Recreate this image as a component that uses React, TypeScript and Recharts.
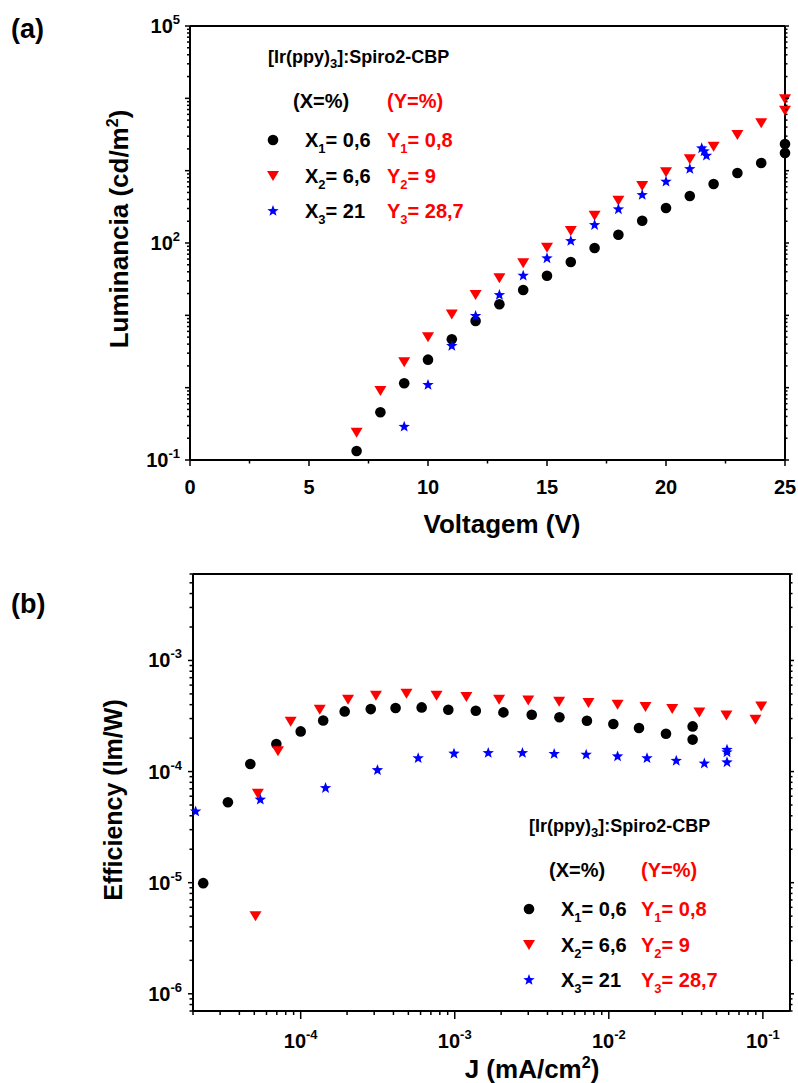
import React from 'react';
import { ScatterChart, Scatter, XAxis, YAxis } from 'recharts';

const FONT = '"Liberation Sans", Arial, Helvetica, sans-serif';
const RED = '#ff0000';
const BLUE = '#0000ff';

// (a) Luminancia vs Voltagem
const voltage1 = [7, 8, 9, 10, 11, 12, 13, 14, 15, 16, 17, 18, 19, 20, 21, 22, 23, 24, 25, 25];
const luminance1 = [0.133, 0.457, 1.15, 2.44, 4.67, 8.36, 14.2, 22.4, 35.3, 54.6, 85.3, 130, 203, 305, 447, 655, 928, 1275, 2340, 1754];
const voltage2 = [7, 8, 9, 10, 11, 12, 13, 14, 15, 16, 17, 18, 19, 20, 21, 22, 23, 24, 25, 25];
const luminance2 = [0.239, 0.9, 2.24, 4.97, 10.3, 19.1, 32.5, 52.4, 86, 146.5, 239, 385, 614, 949, 1436, 2148, 3115, 4518, 9700, 6745];
const voltage3 = [9, 10, 11, 12, 13, 14, 15, 16, 17, 18, 19, 20, 21, 21.5, 21.6, 21.7];
const luminance3 = [0.288, 1.09, 3.77, 9.8, 19.1, 35.3, 61.4, 106.6, 177, 292, 461, 705, 1054, 2037, 1850, 1610];

// (b) Efficiency vs J
const current1 = [2.33e-5, 3.37e-5, 4.71e-5, 6.95e-5, 1.0e-4, 1.4e-4, 1.93e-4, 2.85e-4, 4.13e-4, 6.1e-4, 9.08e-4, 1.37e-3, 2.07e-3, 3.16e-3, 4.78e-3, 7.21e-3, 1.07e-2, 1.57e-2, 2.35e-2, 3.5e-2, 3.5e-2];
const efficiency1 = [9.9e-6, 5.29e-5, 1.17e-4, 1.77e-4, 2.3e-4, 2.88e-4, 3.48e-4, 3.65e-4, 3.73e-4, 3.78e-4, 3.6e-4, 3.53e-4, 3.41e-4, 3.25e-4, 3.08e-4, 2.87e-4, 2.68e-4, 2.47e-4, 2.19e-4, 2.55e-4, 1.94e-4];
const current2 = [5.09e-5, 5.27e-5, 7.12e-5, 8.61e-5, 1.33e-4, 2.03e-4, 3.08e-4, 4.86e-4, 7.62e-4, 1.19e-3, 1.94e-3, 3.0e-3, 4.76e-3, 7.38e-3, 1.14e-2, 1.73e-2, 2.58e-2, 3.87e-2, 5.8e-2, 8.95e-2, 9.75e-2];
const efficiency2 = [4.99e-6, 6.33e-5, 1.52e-4, 2.81e-4, 3.6e-4, 4.43e-4, 4.82e-4, 5.01e-4, 4.82e-4, 4.69e-4, 4.44e-4, 4.37e-4, 4.25e-4, 4.14e-4, 4.0e-4, 3.81e-4, 3.66e-4, 3.41e-4, 3.19e-4, 2.93e-4, 3.85e-4];
const current3 = [2.08e-5, 5.47e-5, 1.45e-4, 3.15e-4, 5.79e-4, 9.89e-4, 1.65e-3, 2.75e-3, 4.42e-3, 7.13e-3, 1.14e-2, 1.77e-2, 2.74e-2, 4.17e-2, 5.85e-2, 5.85e-2, 5.85e-2];
const efficiency3 = [4.38e-5, 5.59e-5, 7.11e-5, 1.03e-4, 1.32e-4, 1.45e-4, 1.47e-4, 1.47e-4, 1.44e-4, 1.42e-4, 1.37e-4, 1.32e-4, 1.25e-4, 1.18e-4, 1.21e-4, 1.57e-4, 1.49e-4];

// axes
const voltTicks = [0, 5, 10, 15, 20, 25];
const voltMinorTicks = [2.5, 7.5, 12.5, 17.5, 22.5];
const lumDecades = [0.1, 1, 10, 100, 1000, 10000, 100000];
const lumLabelExps = [-1, 2, 5];
const currentDecades = [1e-5, 1e-4, 1e-3, 1e-2, 1e-1];
const currentLabelExps = [-4, -3, -2, -1];
const effDecades = [1e-7, 1e-6, 1e-5, 1e-4, 1e-3];
const effLabelExps = [-6, -5, -4, -3];
const MULT = [2, 3, 4, 5, 6, 7, 8, 9];

const logTicks = (decades: number[], lo: number, hi: number) => {
  const out: number[] = [];
  decades.forEach((d) => {
    out.push(d);
    MULT.forEach((m) => out.push(d * m));
  });
  return out.filter((v) => v >= lo * 0.999 && v <= hi * 1.001);
};

const zip = (xs: number[], ys: number[]) => xs.map((x, i) => ({ x, y: ys[i] }));

const lumData1 = zip(voltage1, luminance1);
const lumData2 = zip(voltage2, luminance2);
const lumData3 = zip(voltage3, luminance3);
const effData1 = zip(current1, efficiency1);
const effData2 = zip(current2, efficiency2);
const effData3 = zip(current3, efficiency3);

const isDecade = (v: number) => Math.abs(Math.log10(v) - Math.round(Math.log10(v))) < 1e-6;
const expOf = (v: number) => Math.round(Math.log10(v));

const pow10 = (e: number) => (
  <>
    <tspan>10</tspan>
    <tspan dy={-9} fontSize={13}>{`${e}`}</tspan>
  </>
);

type Side = 'left' | 'right' | 'top' | 'bottom';

const makeTick =
  (
    side: Side,
    isMajor: (v: number) => boolean,
    label: (v: number) => React.ReactNode | null,
    gap: number,
    majorLen = 6,
    minorLen = 3.5
  ) =>
  (props: any) => {
    const { x, y, payload } = props;
    const v = payload.value;
    const len = isMajor(v) ? majorLen : minorLen;
    let line;
    if (side === 'left') line = <line x1={x} y1={y} x2={x - len} y2={y} />;
    else if (side === 'right') line = <line x1={x} y1={y} x2={x + len} y2={y} />;
    else if (side === 'top') line = <line x1={x} y1={y} x2={x} y2={y - len} />;
    else line = <line x1={x} y1={y} x2={x} y2={y + len} />;
    const lab = label(v);
    let text = null;
    if (lab != null) {
      if (side === 'left') {
        text = (
          <text x={x - gap} y={y + 7} textAnchor="end" fontSize={20} fontWeight="bold" fontFamily={FONT} fill="#000">
            {lab}
          </text>
        );
      } else if (side === 'bottom') {
        text = (
          <text x={x} y={y + gap} textAnchor="middle" fontSize={20} fontWeight="bold" fontFamily={FONT} fill="#000">
            {lab}
          </text>
        );
      }
    }
    return (
      <g>
        <g stroke="#000" strokeWidth={1.5}>{line}</g>
        {text}
      </g>
    );
  };

const noLabel = () => null;

const Dot = (p: any) => <circle cx={p.cx} cy={p.cy} r={5.3} fill="#000" />;
const TriDown = (p: any) => (
  <polygon points={`${p.cx - 6},${p.cy - 5} ${p.cx + 6},${p.cy - 5} ${p.cx},${p.cy + 5}`} fill={RED} />
);
const Star = (p: any) => {
  const pts: string[] = [];
  for (let i = 0; i < 10; i++) {
    const r = i % 2 === 0 ? 6 : 2.5;
    const a = -Math.PI / 2 + (i * Math.PI) / 5;
    pts.push(`${p.cx + r * Math.cos(a)},${p.cy + r * Math.sin(a)}`);
  }
  return <polygon points={pts.join(' ')} fill={BLUE} />;
};

const axisLine = { stroke: '#000', strokeWidth: 2 };

const lumYTicks = logTicks(lumDecades, 0.1, 1e5);
const voltAll = [...voltTicks, ...voltMinorTicks].sort((a, b) => a - b);
const curXTicks = logTicks(currentDecades, 2e-5, 0.15);
const effYTicks = logTicks(effDecades, 7e-7, 6e-3);

const voltMajor = (v: number) => voltTicks.includes(v);

const Sub = ({ children }: { children: React.ReactNode }) => (
  <tspan dy={6} fontSize={13}>{children}</tspan>
);

const LegendBlock = ({ x, y, mx, xx, yx }: { x: number; y: number; mx: number; xx: number; yx: number }) => {
  const rows = [
    { n: '1', xv: '= 0,6', yv: '= 0,8', shape: Dot },
    { n: '2', xv: '= 6,6', yv: '= 9', shape: TriDown },
    { n: '3', xv: '= 21', yv: '= 28,7', shape: Star },
  ];
  const rowY = [y + 84, y + 120, y + 155];
  return (
    <g fontFamily={FONT} fontWeight="bold">
      <text x={x} y={y} fontSize={18} fill="#000">
        [Ir(ppy)<tspan dy={5} fontSize={13}>3</tspan>
        <tspan dy={-5}>]:Spiro2-CBP</tspan>
      </text>
      <text x={xx - 12} y={y + 45} fontSize={20} fill="#000">(X=%)</text>
      <text x={yx} y={y + 45} fontSize={20} fill={RED}>(Y=%)</text>
      {rows.map((r, i) => {
        const S = r.shape;
        return (
          <g key={r.n}>
            <S cx={mx} cy={rowY[i] - 7} />
            <text x={xx} y={rowY[i]} fontSize={20} fill="#000">
              X<Sub>{r.n}</Sub>
              <tspan dy={-6}>{r.xv}</tspan>
            </text>
            <text x={yx} y={rowY[i]} fontSize={20} fill={RED}>
              Y<Sub>{r.n}</Sub>
              <tspan dy={-6}>{r.yv}</tspan>
            </text>
          </g>
        );
      })}
    </g>
  );
};

export default function App() {
  return (
    <div style={{ position: 'relative', width: 798, height: 1083, background: '#fff', overflow: 'hidden' }}>
      <style>{'body{margin:0}'}</style>

      <div style={{ position: 'absolute', left: 0, top: 0 }}>
        <ScatterChart width={798} height={540} margin={{ top: 0, right: 0, bottom: 0, left: 0 }}>
          <XAxis
            xAxisId="b"
            type="number"
            dataKey="x"
            domain={[0, 25]}
            ticks={voltAll}
            interval={0}
            height={80}
            tickSize={0}
            tickMargin={0}
            tickLine={false}
            axisLine={axisLine}
            tick={makeTick('bottom', voltMajor, (v) => (voltMajor(v) ? `${v}` : null), 34)}
          />
          <XAxis
            xAxisId="t"
            orientation="top"
            type="number"
            domain={[0, 25]}
            allowDataOverflow
            ticks={voltAll}
            interval={0}
            height={26}
            tickSize={0}
            tickMargin={0}
            tickLine={false}
            axisLine={axisLine}
            tick={makeTick('top', voltMajor, noLabel, 0, 4, 2.5)}
          />
          <YAxis
            yAxisId="l"
            type="number"
            dataKey="y"
            scale="log"
            domain={[0.1, 100000]}
            ticks={lumYTicks}
            interval={0}
            width={190}
            tickSize={0}
            tickMargin={0}
            tickLine={false}
            axisLine={axisLine}
            tick={makeTick('left', isDecade, (v) => (isDecade(v) && lumLabelExps.includes(expOf(v)) ? pow10(expOf(v)) : null), 10, 5, 3)}
          />
          <YAxis
            yAxisId="r"
            orientation="right"
            type="number"
            scale="log"
            domain={[0.1, 100000]}
            allowDataOverflow
            ticks={lumYTicks}
            interval={0}
            width={13}
            tickSize={0}
            tickMargin={0}
            tickLine={false}
            axisLine={axisLine}
            tick={makeTick('right', isDecade, noLabel, 0, 4, 2.5)}
          />
          <Scatter xAxisId="b" yAxisId="l" data={lumData1} shape={Dot} isAnimationActive={false} />
          <Scatter xAxisId="b" yAxisId="l" data={lumData2} shape={TriDown} isAnimationActive={false} />
          <Scatter xAxisId="b" yAxisId="l" data={lumData3} shape={Star} isAnimationActive={false} />
        </ScatterChart>
      </div>

      <div style={{ position: 'absolute', left: 0, top: 540 }}>
        <ScatterChart width={798} height={543} margin={{ top: 0, right: 0, bottom: 0, left: 0 }}>
          <XAxis
            xAxisId="b"
            type="number"
            dataKey="x"
            scale="log"
            domain={[2e-5, 0.15]}
            ticks={curXTicks}
            interval={0}
            height={72}
            tickSize={0}
            tickMargin={0}
            tickLine={false}
            axisLine={axisLine}
            tick={makeTick('bottom', isDecade, (v) => (isDecade(v) && currentLabelExps.includes(expOf(v)) ? pow10(expOf(v)) : null), 37, 8, 4)}
          />
          <XAxis
            xAxisId="t"
            orientation="top"
            type="number"
            scale="log"
            domain={[2e-5, 0.15]}
            allowDataOverflow
            ticks={curXTicks}
            interval={0}
            height={34}
            tickSize={0}
            tickMargin={0}
            tickLine={false}
            axisLine={axisLine}
            tick={makeTick('top', isDecade, noLabel, 0, 4, 2.5)}
          />
          <YAxis
            yAxisId="l"
            type="number"
            dataKey="y"
            scale="log"
            domain={[7e-7, 6e-3]}
            ticks={effYTicks}
            interval={0}
            width={193}
            tickSize={0}
            tickMargin={0}
            tickLine={false}
            axisLine={axisLine}
            tick={makeTick('left', isDecade, (v) => (isDecade(v) && effLabelExps.includes(expOf(v)) ? pow10(expOf(v)) : null), 11, 5, 3.5)}
          />
          <YAxis
            yAxisId="r"
            orientation="right"
            type="number"
            scale="log"
            domain={[7e-7, 6e-3]}
            allowDataOverflow
            ticks={effYTicks}
            interval={0}
            width={8}
            tickSize={0}
            tickMargin={0}
            tickLine={false}
            axisLine={axisLine}
            tick={makeTick('right', isDecade, noLabel, 0, 4, 2.5)}
          />
          <Scatter xAxisId="b" yAxisId="l" data={effData1} shape={Dot} isAnimationActive={false} />
          <Scatter xAxisId="b" yAxisId="l" data={effData2} shape={TriDown} isAnimationActive={false} />
          <Scatter xAxisId="b" yAxisId="l" data={effData3} shape={Star} isAnimationActive={false} />
        </ScatterChart>
      </div>

      <svg width={798} height={1083} style={{ position: 'absolute', left: 0, top: 0, pointerEvents: 'none' }}>
        <g fontFamily={FONT} fontWeight="bold" fill="#000">
          <text x={11} y={38} fontSize={27}>(a)</text>
          <text x={11} y={613} fontSize={27}>(b)</text>
          <text x={502} y={533} fontSize={26} textAnchor="middle">Voltagem (V)</text>
          <text x={532} y={1078} fontSize={26} textAnchor="middle">
            J (mA/cm<tspan dy={-10} fontSize={16}>2</tspan>
            <tspan dy={10}>)</tspan>
          </text>
          <text transform="translate(128,229) rotate(-90)" fontSize={26} textAnchor="middle">
            Luminancia (cd/m<tspan dy={-10} fontSize={16}>2</tspan>
            <tspan dy={10}>)</tspan>
          </text>
          <text transform="translate(122,800) rotate(-90)" fontSize={25} textAnchor="middle">
            Efficiency (lm/W)
          </text>
        </g>
        <LegendBlock x={268} y={63} mx={273} xx={305} yx={387} />
        <LegendBlock x={529} y={832} mx={529} xx={561} yx={641} />
      </svg>
    </div>
  );
}
